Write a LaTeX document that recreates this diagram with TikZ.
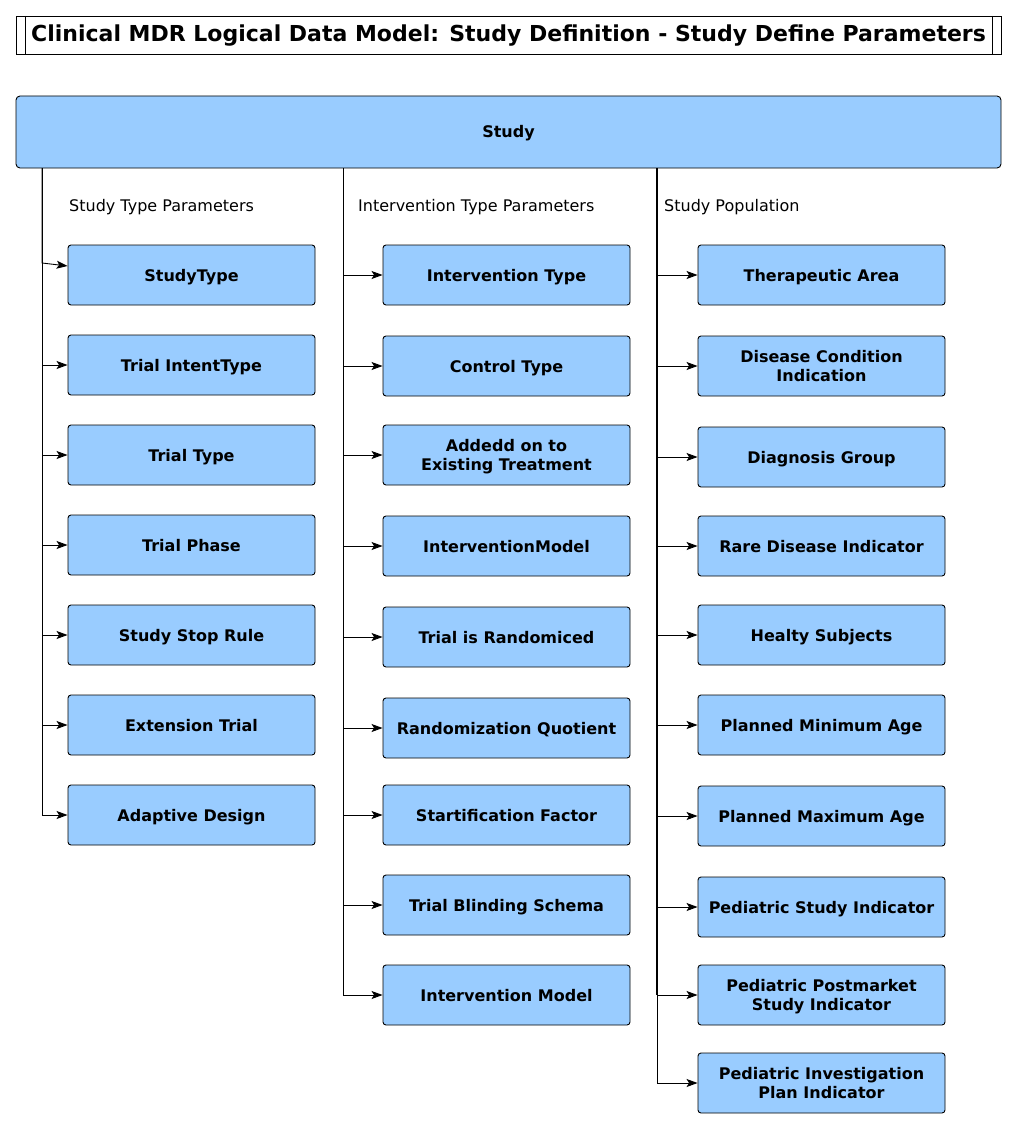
\documentclass[tikz,border=0pt]{standalone}
\usepackage{fontspec}
\setmainfont{DejaVu Sans}
\usetikzlibrary{arrows.meta}
\definecolor{boxblue}{HTML}{99CCFF}
\tikzset{
  param/.style={draw,fill=boxblue,line width=0.9pt,rounded corners=3pt,minimum width=247pt,minimum height=60pt,inner sep=0pt,text height=12pt,text depth=0pt,align=center,font=\fontsize{16}{19}\selectfont\bfseries},
  twoline/.style={text height=31pt},
  grouplabel/.style={anchor=west,inner sep=0pt,font=\fontsize{16}{19}\selectfont},
  link/.style={-{Stealth[length=11pt,width=8pt,inset=2.5pt]},line width=0.9pt}
}

\begin{document}
\begin{tikzpicture}[x=1pt,y=-1pt]
        \useasboundingbox (0,0) rectangle (1017,1129);
        % title
        \draw[line width=0.9pt] (16,16) rectangle (1001,54);
        \draw[line width=0.9pt] (25,16) -- (25,54);
        \draw[line width=0.9pt] (992,16) -- (992,54);
        \node[font=\fontsize{22}{26}\selectfont\bfseries] (title) at (508.5,36) {Clinical MDR Logical Data Model: Study Definition - Study Define Parameters};
        % study
        \node[param,minimum width=985pt,minimum height=72pt,rounded corners=4pt] (study) at (508.5,132) {Study};
        \coordinate (trunkA) at (42,168);
        \coordinate (trunkB) at (343,168);
        \coordinate (trunkC) at (657,168);
        \coordinate (trunkCend) at (657,995);
        \node[grouplabel] (typelbl) at (69,207.5) {Study Type Parameters};
        \node[grouplabel] (intlbl) at (358,207.5) {Intervention Type Parameters};
        \node[grouplabel] (poplbl) at (664,207.5) {Study Population};
        % study type parameters
        \node[param] (type1) at (191.5,275) {StudyType};
        \node[param] (type2) at (191.5,365) {Trial IntentType};
        \node[param] (type3) at (191.5,455) {Trial Type};
        \node[param] (type4) at (191.5,545) {Trial Phase};
        \node[param] (type5) at (191.5,635) {Study Stop Rule};
        \node[param] (type6) at (191.5,725) {Extension Trial};
        \node[param] (type7) at (191.5,815) {Adaptive Design};
        % intervention type parameters
        \node[param] (int1) at (506.5,275) {Intervention Type};
        \node[param] (int2) at (506.5,366) {Control Type};
        \node[param,twoline] (int3) at (506.5,455) {Addedd on to\\Existing Treatment};
        \node[param] (int4) at (506.5,546) {InterventionModel};
        \node[param] (int5) at (506.5,637) {Trial is Randomiced};
        \node[param] (int6) at (506.5,728) {Randomization Quotient};
        \node[param] (int7) at (506.5,815) {Startification Factor};
        \node[param] (int8) at (506.5,905) {Trial Blinding Schema};
        \node[param] (int9) at (506.5,995) {Intervention Model};
        % study population
        \node[param] (pop1) at (821.5,275) {Therapeutic Area};
        \node[param,twoline] (pop2) at (821.5,366) {Disease Condition\\Indication};
        \node[param] (pop3) at (821.5,457) {Diagnosis Group};
        \node[param] (pop4) at (821.5,546) {Rare Disease Indicator};
        \node[param] (pop5) at (821.5,635) {Healty Subjects};
        \node[param] (pop6) at (821.5,725) {Planned Minimum Age};
        \node[param] (pop7) at (821.5,816) {Planned Maximum Age};
        \node[param] (pop8) at (821.5,907) {Pediatric Study Indicator};
        \node[param,twoline] (pop9) at (821.5,995) {Pediatric Postmarket\\Study Indicator};
        \node[param,twoline] (pop10) at (821.5,1083) {Pediatric Investigation\\Plan Indicator};
        % connectors
        \draw[link] (trunkA) -- (42,263) -- ([yshift=9pt]type1.west);
        \draw[link] (trunkA) |- (type2);
        \draw[link] (trunkA) |- (type3);
        \draw[link] (trunkA) |- (type4);
        \draw[link] (trunkA) |- (type5);
        \draw[link] (trunkA) |- (type6);
        \draw[link] (trunkA) |- (type7);
        \draw[link] (trunkB) |- (int1);
        \draw[link] (trunkB) |- (int2);
        \draw[link] (trunkB) |- (int3);
        \draw[link] (trunkB) |- (int4);
        \draw[link] (trunkB) |- (int5);
        \draw[link] (trunkB) |- (int6);
        \draw[link] (trunkB) |- (int7);
        \draw[link] (trunkB) |- (int8);
        \draw[link] (trunkB) |- (int9);
        \draw[line width=2.2pt] (trunkC) -- (trunkCend);
        \draw[link] (trunkC) |- (pop1);
        \draw[link] (trunkC) |- (pop2);
        \draw[link] (trunkC) |- (pop3);
        \draw[link] (trunkC) |- (pop4);
        \draw[link] (trunkC) |- (pop5);
        \draw[link] (trunkC) |- (pop6);
        \draw[link] (trunkC) |- (pop7);
        \draw[link] (trunkC) |- (pop8);
        \draw[link] (trunkC) |- (pop9);
        \draw[link] (trunkC) |- (pop10);
    \end{tikzpicture}
\end{document}
